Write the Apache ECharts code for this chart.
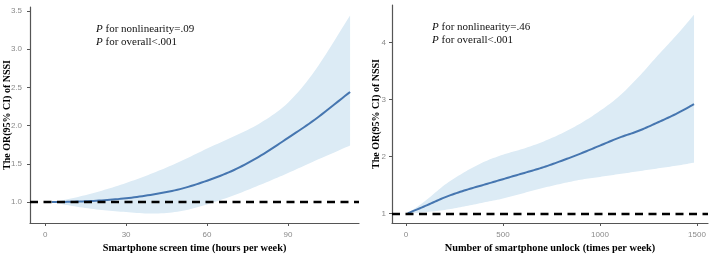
<!DOCTYPE html>
<html><head><meta charset="utf-8">
<script src="https://cdn.jsdelivr.net/npm/echarts@6/dist/echarts.min.js"></script>
<style>html,body{margin:0;padding:0;background:#fff}#c{width:713px;height:258px}</style>
</head><body><div id="c"></div>
<script>
// Left panel: smartphone screen time (hours per week)
const screenX     = [2.5, 10, 20, 30, 40, 50, 60, 70, 80, 90, 100, 113];
const screenOR    = [1.0, 1.005, 1.02, 1.05, 1.10, 1.17, 1.28, 1.42, 1.61, 1.84, 2.08, 2.44];
const screenUpper = [1.0, 1.05, 1.14, 1.25, 1.38, 1.53, 1.70, 1.86, 2.04, 2.30, 2.72, 3.44];
const screenLower = [1.0, 0.95, 0.90, 0.87, 0.85, 0.88, 0.97, 1.09, 1.23, 1.38, 1.54, 1.74];
const screenXTicks = [0, 30, 60, 90];
const screenYTicks = [1.0, 1.5, 2.0, 2.5, 3.0, 3.5];

// Right panel: number of smartphone unlocks (times per week)
const unlockX     = [9, 100, 200, 300, 400, 500, 600, 700, 800, 900, 1000, 1100, 1200, 1300, 1400, 1485];
const unlockOR    = [1.0, 1.13, 1.28, 1.40, 1.50, 1.60, 1.70, 1.80, 1.92, 2.05, 2.19, 2.33, 2.45, 2.60, 2.76, 2.92];
const unlockUpper = [1.0, 1.22, 1.50, 1.72, 1.90, 2.03, 2.13, 2.25, 2.40, 2.58, 2.80, 3.06, 3.40, 3.78, 4.15, 4.49];
const unlockLower = [1.0, 1.02, 1.06, 1.12, 1.19, 1.26, 1.35, 1.44, 1.52, 1.59, 1.64, 1.69, 1.74, 1.79, 1.84, 1.89];
const unlockXTicks = [0, 500, 1000, 1500];
const unlockYTicks = [1, 2, 3, 4];

const refOR = 1;
const texts = {
  left:  { xTitle: 'Smartphone screen time (hours per week)', p1: '=.09', p2: '<.001' },
  right: { xTitle: 'Number of smartphone unlock (times per week)', p1: '=.46', p2: '<.001' },
  yTitle: 'The OR(95% CI) of NSSI'
};

const LINE = '#4676b0', BAND = '#dcebf5', AXIS = '#555';

function xAxis(gi, min, max, ticks, name, gap) {
  return {
    type: 'value', gridIndex: gi, min, max,
    axisLine: { show: true, onZero: false, lineStyle: { color: AXIS, width: 1.2 } },
    axisTick: { show: true, length: 3, lineStyle: { color: AXIS }, customValues: ticks },
    axisLabel: { color: '#8a8a8a', fontSize: 8, fontFamily: 'Liberation Sans', margin: 8,
      customValues: ticks, formatter: v => String(v) },
    splitLine: { show: false },
    name, nameLocation: 'middle', nameGap: gap, nameMoveOverlap: false,
    nameTextStyle: { fontFamily: 'Liberation Serif', fontWeight: 'bold', fontSize: 10.3, color: '#000' }
  };
}
function yAxis(gi, min, max, ticks, fmt, gap, margin) {
  return {
    type: 'value', gridIndex: gi, min, max,
    axisLine: { show: true, onZero: false, lineStyle: { color: AXIS, width: 1.2 } },
    axisTick: { show: true, length: 3, lineStyle: { color: AXIS }, customValues: ticks },
    axisLabel: { color: '#8a8a8a', fontSize: 8, fontFamily: 'Liberation Sans', margin: margin,
      customValues: ticks, formatter: fmt },
    splitLine: { show: false },
    name: texts.yTitle, nameLocation: 'middle', nameGap: gap, nameRotate: 90, nameMoveOverlap: false,
    nameTextStyle: { fontFamily: 'Liberation Serif', fontWeight: 'bold', fontSize: 10, color: '#000' }
  };
}

// Catmull-Rom smoothing of pixel points (points come from api.coord)
function smoothPts(p) {
  const out = [];
  for (let i = 0; i < p.length - 1; i++) {
    const p0 = p[Math.max(0, i - 1)], p1 = p[i], p2 = p[i + 1], p3 = p[Math.min(p.length - 1, i + 2)];
    for (let t = 0; t < 1; t += 0.1) {
      const t2 = t * t, t3 = t2 * t;
      out.push([0, 1].map(k => 0.5 * ((2 * p1[k]) + (-p0[k] + p2[k]) * t +
        (2 * p0[k] - 5 * p1[k] + 4 * p2[k] - p3[k]) * t2 + (-p0[k] + 3 * p1[k] - 3 * p2[k] + p3[k]) * t3)));
    }
  }
  out.push(p[p.length - 1]);
  return out;
}

function panel(gi, xs, or, up, lo) {
  const data = xs.map((v, i) => [v, lo[i], up[i], or[i]]);
  return [
    { type: 'custom', xAxisIndex: gi, yAxisIndex: gi, data: data, silent: true, z: 1,
      encode: { x: 0, y: [1, 2, 3] }, clip: true,
      renderItem: function (params, api) {
        if (params.dataIndex !== 0) return null;
        const upper = smoothPts(data.map(d => api.coord([d[0], d[2]])));
        const lower = smoothPts(data.map(d => api.coord([d[0], d[1]])));
        const mid = smoothPts(data.map(d => api.coord([d[0], d[3]])));
        return { type: 'group', children: [
          { type: 'polygon', shape: { points: upper.concat(lower.reverse()) }, style: { fill: BAND } },
          { type: 'polyline', shape: { points: mid },
            style: { stroke: LINE, lineWidth: 2, fill: null, lineJoin: 'round' } }
        ] };
      } },
    { type: 'line', xAxisIndex: gi, yAxisIndex: gi, data: [], z: 3,
      markLine: { silent: true, symbol: 'none', label: { show: false }, animation: false,
        lineStyle: { color: '#000', width: 2.4, type: [8, 5.5] },
        data: [{ yAxis: refOR }] } }
  ];
}

const rich = {
  i: { fontStyle: 'italic', fontWeight: 'normal', fontFamily: 'Liberation Serif', fontSize: 11, color: '#111' },
  n: { fontWeight: 'normal', fontFamily: 'Liberation Serif', fontSize: 11, color: '#111' }
};
function pTitle(x, y, val, label) {
  return { left: x, top: y, padding: 0, text: '{i|P}{n| for ' + label + val + '}',
    textStyle: { rich: rich, fontSize: 11, fontWeight: 'normal' } };
}

const chart = echarts.init(document.getElementById('c'), null, { renderer: 'canvas' });
chart.setOption({
  animation: false,
  title: [
    pTitle(96, 24, texts.left.p1, 'nonlinearity'),
    pTitle(96, 37, texts.left.p2, 'overall'),
    pTitle(432, 22, texts.right.p1, 'nonlinearity'),
    pTitle(432, 35, texts.right.p2, 'overall')
  ],
  grid: [
    { left: 30, top: 7, width: 329, height: 221 },
    { left: 392, top: 5, width: 316, height: 224 }
  ],
  xAxis: [xAxis(0, -5.6, 116.3, screenXTicks, texts.left.xTitle, 20),
          xAxis(1, -72, 1557, unlockXTicks, texts.right.xTitle, 20)],
  yAxis: [yAxis(0, 0.727, 3.55, screenYTicks, v => v.toFixed(1), 18, 8),
          yAxis(1, 0.83, 4.66, unlockYTicks, v => String(v), 11, 6)],
  series: [
    ...panel(0, screenX, screenOR, screenUpper, screenLower),
    ...panel(1, unlockX, unlockOR, unlockUpper, unlockLower)
  ]
});
</script></body></html>
